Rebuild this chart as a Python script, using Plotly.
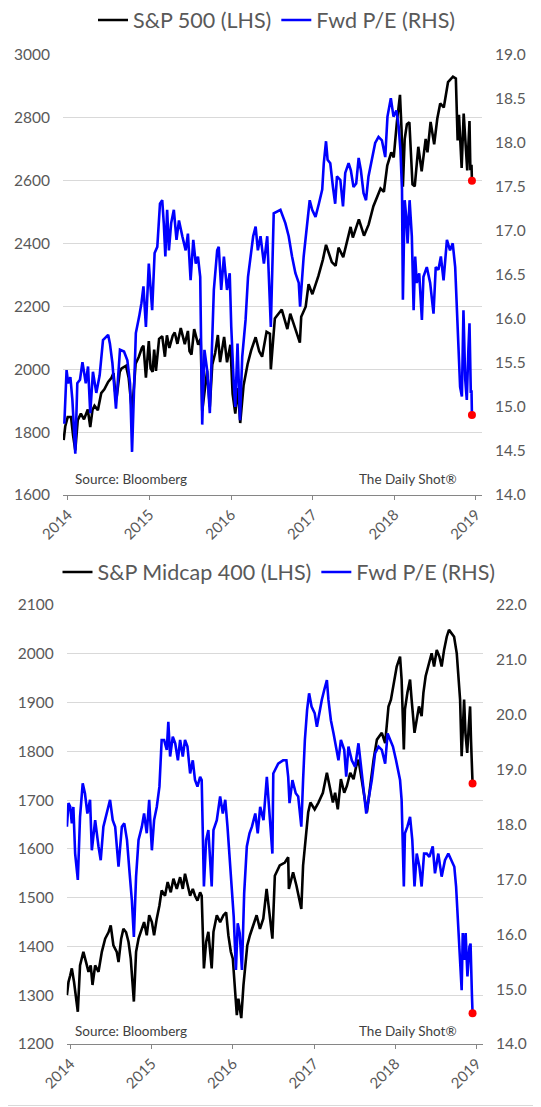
import plotly.graph_objects as go

# ---------------- S&P 500 (LHS) ----------------
sp_dates = ["2013-12-13","2013-12-20","2013-12-31","2014-01-15","2014-01-24","2014-02-03","2014-02-14","2014-02-28",
"2014-03-14","2014-03-31","2014-04-11","2014-04-21","2014-04-30","2014-05-15","2014-05-30","2014-06-13","2014-06-30",
"2014-07-15","2014-07-24","2014-07-31","2014-08-07","2014-08-21","2014-08-29","2014-09-18","2014-09-30","2014-10-15",
"2014-10-31","2014-11-14","2014-11-28","2014-12-05","2014-12-16","2014-12-29","2015-01-06","2015-01-15","2015-01-22",
"2015-01-30","2015-02-13","2015-02-27","2015-03-11","2015-03-20","2015-03-31","2015-04-15","2015-04-24","2015-05-06",
"2015-05-21","2015-06-08","2015-06-22","2015-06-29","2015-07-08","2015-07-20","2015-08-07","2015-08-18","2015-08-25",
"2015-09-16","2015-09-28","2015-10-09","2015-10-22","2015-11-03","2015-11-13","2015-12-01","2015-12-14","2015-12-29",
"2016-01-08","2016-01-20","2016-02-01","2016-02-11","2016-02-26","2016-03-15","2016-03-31","2016-04-20","2016-05-06",
"2016-05-19","2016-06-08","2016-06-23","2016-06-27","2016-07-15","2016-08-15","2016-09-09","2016-09-22","2016-10-13",
"2016-11-04","2016-11-10","2016-11-30","2016-12-13","2016-12-30","2017-01-26","2017-02-15","2017-03-01","2017-03-27",
"2017-04-13","2017-04-26","2017-05-17","2017-06-19","2017-06-29","2017-07-26","2017-08-18","2017-09-08","2017-09-29",
"2017-10-31","2017-11-15","2017-11-30","2017-12-18","2017-12-29","2018-01-12","2018-01-26","2018-02-02","2018-02-08",
"2018-02-16","2018-02-26","2018-03-09","2018-03-23","2018-04-02","2018-04-18","2018-05-03","2018-05-21","2018-05-29",
"2018-06-12","2018-06-28","2018-07-12","2018-07-25","2018-08-10","2018-08-29","2018-09-20","2018-10-03","2018-10-11",
"2018-10-17","2018-10-29","2018-11-07","2018-11-20","2018-11-23","2018-12-03","2018-12-07","2018-12-12","2018-12-14"]
sp_vals = [1775,1818,1848,1848,1790,1742,1838,1859,1841,1872,1816,1871,1884,1870,1924,1936,1960,1973,1988,1931,1910,
1992,2003,2011,1972,1862,2018,2039,2068,2075,1973,2090,2003,1992,2063,1995,2097,2105,2040,2108,2068,2107,2117,2081,
2131,2080,2122,2058,2047,2128,2078,2097,1868,1996,1881,2015,2052,2109,2023,2103,2022,2078,1922,1859,1940,1829,1948,
2016,2060,2102,2057,2040,2119,2113,2000,2162,2190,2128,2177,2133,2085,2167,2199,2271,2239,2297,2349,2396,2341,2329,
2387,2357,2453,2419,2477,2425,2461,2519,2575,2565,2648,2690,2674,2786,2873,2762,2581,2732,2780,2786,2588,2582,2708,
2630,2733,2690,2787,2716,2798,2846,2833,2914,2931,2925,2728,2810,2641,2814,2642,2633,2790,2633,2651,2600]

# ---------------- S&P 500 Fwd P/E (RHS) ----------------
sp_pe_dates = ["2013-12-16","2013-12-19","2013-12-26","2014-01-02","2014-01-12","2014-01-21","2014-02-03","2014-02-12",
"2014-02-24","2014-03-07","2014-03-22","2014-04-01","2014-04-11","2014-04-23","2014-05-08","2014-05-23","2014-06-07",
"2014-06-30","2014-07-08","2014-07-19","2014-08-04","2014-08-22","2014-09-09","2014-09-24","2014-10-06","2014-10-15",
"2014-11-01","2014-11-16","2014-11-26","2014-12-05","2014-12-16","2014-12-29","2015-01-13","2015-01-24","2015-02-05",
"2015-02-17","2015-02-27","2015-03-06","2015-03-13","2015-03-21","2015-03-29","2015-04-08","2015-04-20","2015-05-02",
"2015-05-13","2015-05-28","2015-06-12","2015-06-22","2015-07-04","2015-07-16","2015-07-27","2015-08-06","2015-08-16",
"2015-08-25","2015-09-04","2015-09-16","2015-09-28","2015-10-16","2015-10-31","2015-11-07","2015-11-18","2015-11-30",
"2015-12-14","2015-12-26","2016-01-02","2016-01-13","2016-01-20","2016-01-30","2016-02-10","2016-02-20","2016-03-06",
"2016-03-17","2016-03-28","2016-04-09","2016-04-20","2016-04-30","2016-05-12","2016-05-27","2016-06-11","2016-06-27",
"2016-07-10","2016-08-09","2016-08-31","2016-09-15","2016-09-30","2016-10-15","2016-10-30","2016-11-05","2016-11-21",
"2016-12-06","2016-12-18","2016-12-29","2017-01-13","2017-01-28","2017-02-12","2017-02-19","2017-03-01","2017-03-08",
"2017-03-20","2017-04-01","2017-04-11","2017-04-19","2017-05-04","2017-05-16","2017-05-26","2017-06-10","2017-06-20",
"2017-07-02","2017-07-14","2017-07-25","2017-08-04","2017-08-16","2017-08-27","2017-09-07","2017-09-22","2017-10-07",
"2017-10-22","2017-11-06","2017-11-21","2017-12-01","2017-12-16","2017-12-28","2018-01-10","2018-01-20","2018-01-28",
"2018-02-04","2018-02-08","2018-02-16","2018-02-23","2018-03-01","2018-03-10","2018-03-20","2018-03-28","2018-04-04",
"2018-04-11","2018-04-22","2018-05-04","2018-05-11","2018-05-26","2018-06-10","2018-06-25","2018-07-05","2018-07-17",
"2018-07-28","2018-08-09","2018-08-24","2018-09-07","2018-09-19","2018-09-30","2018-10-07","2018-10-15","2018-10-22",
"2018-10-30","2018-11-06","2018-11-14","2018-11-21","2018-11-28","2018-12-03","2018-12-09","2018-12-12","2018-12-14"]
sp_pe_vals = [14.81,15.08,15.42,15.27,15.34,15.08,14.47,15.27,15.31,15.51,15.27,15.46,14.93,15.40,15.16,15.36,15.76,
15.82,15.72,15.50,14.98,15.65,15.63,15.53,15.27,14.49,15.84,16.03,16.18,16.37,15.91,16.63,16.10,16.75,16.82,17.31,
17.35,17.09,16.71,17.24,16.78,17.09,17.24,16.90,17.12,16.94,16.78,16.97,16.44,16.90,16.63,16.71,16.48,14.80,15.65,
15.42,14.93,16.33,16.78,16.82,16.33,16.71,16.33,16.52,15.91,15.27,15.00,15.72,14.85,15.57,15.99,16.48,16.71,16.94,
17.05,16.78,16.94,16.63,16.94,15.91,17.20,17.24,17.09,16.94,16.71,16.52,16.41,16.14,16.71,17.09,17.35,17.24,17.16,
17.31,17.47,17.77,18.02,17.81,17.77,17.50,17.31,17.62,17.58,17.28,17.66,17.77,17.69,17.50,17.54,17.83,17.69,17.43,
17.35,17.62,17.81,18.00,18.07,18.03,17.84,18.30,18.51,18.30,18.37,18.19,17.92,17.47,16.22,17.35,17.16,16.86,17.35,
16.94,16.10,16.71,16.41,16.52,15.99,16.48,16.59,16.41,16.06,16.59,16.56,16.71,16.44,16.90,16.78,16.86,16.59,16.14,
15.69,15.23,15.12,16.10,15.31,15.08,15.65,15.95,15.16,15.19,14.91]

# ---------------- S&P Midcap 400 (LHS) ----------------
mid_dates = ["2013-12-16","2013-12-23","2013-12-31","2014-01-07","2014-01-17","2014-02-03","2014-02-13","2014-02-28",
"2014-03-12","2014-03-23","2014-04-02","2014-04-10","2014-04-22","2014-05-07","2014-05-22","2014-06-06","2014-06-21",
"2014-07-01","2014-07-13","2014-07-28","2014-08-05","2014-08-17","2014-08-27","2014-09-08","2014-09-19","2014-09-29",
"2014-10-13","2014-10-23","2014-11-03","2014-11-18","2014-11-28","2014-12-10","2014-12-21","2015-01-02","2015-01-12",
"2015-01-24","2015-02-05","2015-02-15","2015-03-02","2015-03-14","2015-03-28","2015-04-09","2015-04-24","2015-05-09",
"2015-05-21","2015-05-31","2015-06-11","2015-06-23","2015-07-05","2015-07-15","2015-07-26","2015-08-07","2015-08-14",
"2015-08-24","2015-09-03","2015-09-13","2015-09-28","2015-10-06","2015-10-21","2015-11-05","2015-11-20","2015-12-02",
"2015-12-12","2015-12-23","2016-01-01","2016-01-11","2016-01-19","2016-01-26","2016-02-08","2016-02-18","2016-02-25",
"2016-03-06","2016-03-18","2016-04-02","2016-04-17","2016-05-02","2016-05-17","2016-06-01","2016-06-13","2016-06-27",
"2016-07-08","2016-07-30","2016-08-22","2016-09-06","2016-09-09","2016-09-28","2016-10-13","2016-11-04","2016-11-12",
"2016-11-24","2016-12-05","2016-12-15","2017-01-03","2017-01-20","2017-02-09","2017-02-27","2017-03-14","2017-03-26",
"2017-04-05","2017-04-17","2017-05-01","2017-05-16","2017-05-28","2017-06-12","2017-06-27","2017-07-09","2017-07-19",
"2017-08-03","2017-08-18","2017-08-26","2017-09-10","2017-09-25","2017-10-10","2017-11-01","2017-11-16","2017-12-01",
"2017-12-12","2017-12-24","2018-01-07","2018-01-22","2018-01-29","2018-02-08","2018-02-13","2018-02-24","2018-03-08",
"2018-03-15","2018-03-28","2018-04-07","2018-04-17","2018-04-29","2018-05-07","2018-05-17","2018-05-29","2018-06-13",
"2018-06-24","2018-07-06","2018-07-18","2018-07-28","2018-08-08","2018-08-20","2018-08-30","2018-09-11","2018-09-22",
"2018-10-04","2018-10-13","2018-10-19","2018-10-26","2018-10-31","2018-11-06","2018-11-12","2018-11-20","2018-11-27",
"2018-12-03","2018-12-07","2018-12-11","2018-12-14"]
mid_vals = [1300,1327,1341,1355,1327,1266,1361,1389,1368,1348,1361,1321,1361,1348,1389,1416,1429,1443,1402,1389,1368,
1416,1436,1429,1409,1375,1287,1389,1416,1436,1450,1423,1464,1450,1423,1457,1484,1515,1504,1532,1511,1539,1518,1542,
1518,1549,1525,1504,1518,1504,1494,1511,1504,1355,1409,1430,1355,1430,1464,1450,1464,1470,1423,1389,1375,1314,1259,
1293,1253,1321,1361,1402,1423,1443,1464,1436,1457,1518,1470,1416,1545,1566,1572,1583,1518,1552,1525,1477,1566,1620,
1675,1695,1681,1695,1715,1756,1722,1695,1715,1681,1743,1715,1729,1756,1743,1770,1783,1743,1702,1675,1729,1783,1824,
1838,1817,1892,1906,1940,1974,1994,1947,1804,1886,1920,1947,1906,1838,1865,1892,1872,1920,1954,1974,2001,1974,2008,
1994,1974,2008,2035,2049,2042,2035,2001,1940,1906,1790,1852,1906,1838,1797,1852,1892,1824,1770,1734]

# ---------------- Midcap Fwd P/E (RHS) ----------------
mid_pe_dates = ["2013-12-16","2013-12-23","2013-12-31","2014-01-07","2014-01-14","2014-01-22","2014-02-03","2014-02-13",
"2014-02-25","2014-03-07","2014-03-18","2014-03-30","2014-04-07","2014-04-22","2014-05-07","2014-05-17","2014-05-29",
"2014-06-13","2014-06-28","2014-07-10","2014-07-21","2014-08-05","2014-08-20","2014-08-31","2014-09-12","2014-09-24",
"2014-10-04","2014-10-13","2014-10-23","2014-11-03","2014-11-18","2014-11-28","2014-12-10","2014-12-21","2015-01-02",
"2015-01-12","2015-01-24","2015-02-05","2015-02-15","2015-02-26","2015-03-10","2015-03-17","2015-03-25","2015-04-06",
"2015-04-17","2015-04-29","2015-05-09","2015-05-21","2015-05-31","2015-06-11","2015-06-23","2015-07-05","2015-07-15",
"2015-07-26","2015-08-07","2015-08-14","2015-08-24","2015-09-03","2015-09-13","2015-09-28","2015-10-06","2015-10-21",
"2015-11-05","2015-11-17","2015-11-28","2015-12-08","2015-12-17","2015-12-28","2016-01-05","2016-01-15","2016-01-23",
"2016-02-01","2016-02-11","2016-02-21","2016-03-04","2016-03-16","2016-03-27","2016-04-11","2016-04-22","2016-05-03",
"2016-05-18","2016-06-02","2016-06-14","2016-06-27","2016-07-01","2016-07-23","2016-08-14","2016-08-29","2016-09-06",
"2016-09-12","2016-09-25","2016-10-10","2016-10-21","2016-11-04","2016-11-12","2016-11-20","2016-11-30","2016-12-09",
"2016-12-20","2017-01-03","2017-01-13","2017-01-25","2017-02-04","2017-02-15","2017-02-27","2017-03-06","2017-03-17",
"2017-03-29","2017-04-10","2017-04-20","2017-05-01","2017-05-16","2017-05-25","2017-06-04","2017-06-19","2017-07-04",
"2017-07-19","2017-07-30","2017-08-11","2017-08-23","2017-09-02","2017-09-17","2017-10-02","2017-10-17","2017-11-01",
"2017-11-16","2017-11-27","2017-12-09","2017-12-21","2018-01-04","2018-01-14","2018-01-22","2018-01-29","2018-02-08",
"2018-02-13","2018-02-24","2018-03-08","2018-03-18","2018-03-28","2018-04-07","2018-04-19","2018-04-29","2018-05-10",
"2018-05-22","2018-06-03","2018-06-18","2018-06-28","2018-07-13","2018-07-28","2018-08-12","2018-08-27","2018-09-11",
"2018-09-23","2018-10-01","2018-10-08","2018-10-16","2018-10-26","2018-10-31","2018-11-06","2018-11-13","2018-11-21",
"2018-11-30","2018-12-05","2018-12-11","2018-12-14"]
mid_pe_vals = [17.96,18.39,18.32,18.02,18.32,17.47,16.99,18.14,18.75,18.57,18.20,18.45,17.53,18.08,17.60,17.35,17.96,
18.20,18.45,18.08,17.96,17.23,17.96,18.02,17.72,17.11,16.62,15.95,17.05,17.72,17.96,18.20,17.84,18.45,17.53,18.08,
18.32,18.69,19.54,19.54,19.36,19.87,19.24,19.60,19.48,19.17,19.54,19.24,19.54,19.42,18.93,19.17,18.81,18.69,18.87,
18.81,16.87,17.72,17.90,16.87,17.90,18.08,18.51,18.20,18.45,17.96,17.47,16.93,16.32,15.35,16.20,16.02,15.35,16.74,
17.60,17.84,17.96,18.20,17.84,18.32,18.08,18.87,18.20,17.47,18.93,19.11,19.17,19.17,18.87,18.39,18.81,18.57,18.51,
17.96,18.81,19.54,20.09,20.39,20.15,20.03,19.78,20.09,20.27,20.45,20.63,20.27,19.90,19.66,19.42,19.17,19.54,19.36,
18.87,19.42,19.17,19.05,19.48,19.05,18.69,18.20,18.45,18.81,19.30,19.42,19.36,19.11,19.66,19.54,19.42,19.17,18.93,
18.81,18.45,16.87,17.84,17.96,18.14,17.72,16.87,17.47,17.23,16.87,17.47,17.47,17.41,17.60,17.11,17.47,17.05,17.35,
17.47,17.35,17.23,16.87,16.26,15.65,14.98,16.02,15.53,16.02,15.23,15.77,15.83,14.92,14.56]

# ---------------- Labels ----------------
top_names = ["S&P 500 (LHS)", "Fwd P/E (RHS)"]
bot_names = ["S&P Midcap 400 (LHS)", "Fwd P/E (RHS)"]
source_text = "Source: Bloomberg"
brand_text = "The Daily Shot®"

FONT = "Lato"
TXT = "#595959"
GRID = "#d9d9d9"
AX = "#868686"
LW = 2.6

fig = go.Figure()

# top chart
fig.add_trace(go.Scatter(x=sp_dates, y=sp_vals, name=top_names[0], mode="lines",
                         line=dict(color="#000000", width=LW), xaxis="x", yaxis="y", legend="legend"))
fig.add_trace(go.Scatter(x=sp_pe_dates, y=sp_pe_vals, name=top_names[1], mode="lines",
                         line=dict(color="#0000ff", width=LW), xaxis="x", yaxis="y2", legend="legend"))
fig.add_trace(go.Scatter(x=[sp_dates[-1]], y=[sp_vals[-1]], mode="markers", showlegend=False,
                         marker=dict(color="#ff0000", size=8), xaxis="x", yaxis="y"))
fig.add_trace(go.Scatter(x=[sp_pe_dates[-1]], y=[sp_pe_vals[-1]], mode="markers", showlegend=False,
                         marker=dict(color="#ff0000", size=8), xaxis="x", yaxis="y2"))

# bottom chart
fig.add_trace(go.Scatter(x=mid_dates, y=mid_vals, name=bot_names[0], mode="lines",
                         line=dict(color="#000000", width=LW), xaxis="x2", yaxis="y3", legend="legend2"))
fig.add_trace(go.Scatter(x=mid_pe_dates, y=mid_pe_vals, name=bot_names[1], mode="lines",
                         line=dict(color="#0000ff", width=LW), xaxis="x2", yaxis="y4", legend="legend2"))
fig.add_trace(go.Scatter(x=[mid_dates[-1]], y=[mid_vals[-1]], mode="markers", showlegend=False,
                         marker=dict(color="#ff0000", size=8), xaxis="x2", yaxis="y3"))
fig.add_trace(go.Scatter(x=[mid_pe_dates[-1]], y=[mid_pe_vals[-1]], mode="markers", showlegend=False,
                         marker=dict(color="#ff0000", size=8), xaxis="x2", yaxis="y4"))

# the page body has an 8px margin: the figure is shrunk and shifted to compensate
OFF = 8
WIN_W, WIN_H = 541, 1107
W, H = WIN_W - OFF, WIN_H - OFF
T, B = 55 - OFF, WIN_H - 1044
PH = H - T - B

def fx(p):   # page x pixel -> paper fraction (no side margins)
    return (p - OFF) / W

def fy(p):   # page y pixel -> paper fraction
    return (1044 - p) / PH

top_dom = [fy(495), fy(55)]
bot_dom = [fy(1044), fy(605)]
top_xdom = [fx(63), fx(482)]
bot_xdom = [fx(66.7), fx(483)]

xcommon = dict(type="date", dtick="M12", tick0="2014-01-01", tickformat="%Y", tickangle=-45,
               showgrid=False, zeroline=False, showline=True, linecolor=AX, linewidth=1, automargin=False,
               ticks="outside", ticklen=4, tickcolor=AX, tickfont=dict(family=FONT, size=15, color=TXT))
ycommon = dict(showgrid=True, gridcolor=GRID, gridwidth=1, zeroline=False, showline=False, ticks="",
               automargin=False, tickfont=dict(family=FONT, size=15.5, color=TXT), ticklabelstandoff=12)

fig.update_layout(
    width=W, height=H, margin=dict(l=0, r=0, t=T, b=B, autoexpand=False),
    paper_bgcolor="white", plot_bgcolor="white",
    xaxis=dict(xcommon, domain=top_xdom, anchor="y", range=["2013-12-10", "2019-01-28"]),
    yaxis=dict(ycommon, domain=top_dom, range=[1600, 3000], dtick=200, anchor="x"),
    yaxis2=dict(ycommon, showgrid=False, domain=top_dom, range=[14, 19], dtick=0.5, tickformat=".1f",
                overlaying="y", side="right", anchor="x"),
    xaxis2=dict(xcommon, domain=bot_xdom, anchor="y3", range=["2013-12-15", "2019-01-30"]),
    yaxis3=dict(ycommon, domain=bot_dom, range=[1200, 2100], dtick=100, anchor="x2"),
    yaxis4=dict(ycommon, showgrid=False, domain=bot_dom, range=[14, 22], dtick=1, tickformat=".1f",
                overlaying="y3", side="right", anchor="x2"),
    legend=dict(orientation="h", x=fx(277), xanchor="center", y=fy(20), yanchor="middle",
                font=dict(family=FONT, size=21.5, color=TXT), itemwidth=30, bgcolor="rgba(0,0,0,0)"),
    legend2=dict(orientation="h", x=fx(279), xanchor="center", y=fy(572), yanchor="middle",
                 font=dict(family=FONT, size=21.5, color=TXT), itemwidth=30, bgcolor="rgba(0,0,0,0)"),
    showlegend=True,
)

ann_font = dict(family=FONT, size=13.5, color="#404040")
for ytxt in (479, 1031):
    fig.add_annotation(x=fx(73), y=fy(ytxt), xref="paper", yref="paper", text=source_text,
                       showarrow=False, xanchor="left", yanchor="middle", font=ann_font)
    fig.add_annotation(x=fx(459), y=fy(ytxt), xref="paper", yref="paper", text=brand_text,
                       showarrow=False, xanchor="right", yanchor="middle", font=ann_font)

# light frame (right and bottom edges of the picture)
fig.add_shape(type="line", xref="paper", yref="paper", x0=fx(539.5), x1=fx(539.5),
              y0=fy(1105.5), y1=fy(OFF), line=dict(color="#d9d9d9", width=1))
fig.add_shape(type="line", xref="paper", yref="paper", x0=fx(OFF), x1=fx(539.5),
              y0=fy(1105.5), y1=fy(1105.5), line=dict(color="#d9d9d9", width=1))

fig.write_html("out.html")
